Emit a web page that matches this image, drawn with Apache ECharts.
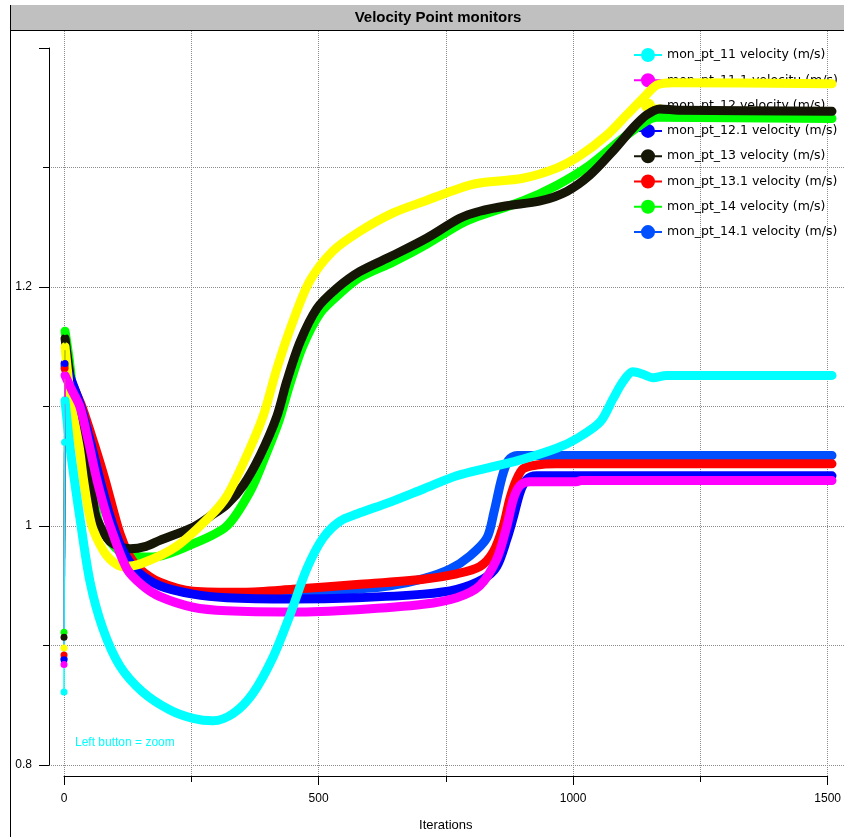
<!DOCTYPE html>
<html>
<head>
<meta charset="utf-8">
<script src="https://cdn.jsdelivr.net/npm/echarts@6/dist/echarts.min.js"></script>
<style>
html,body{margin:0;padding:0;background:#fff;}
#chart{width:844px;height:837px;}
</style>
</head>
<body>
<div id="chart"></div>
<script>
// ---- data (iteration, velocity m/s) ----
const seriesNames = [
  'mon_pt_11 velocity (m/s)', 'mon_pt_11.1 velocitu (m/s)', 'mon_pt_12 velocity (m/s)',
  'mon_pt_12.1 velocity (m/s)', 'mon_pt_13 velocity (m/s)', 'mon_pt_13.1 velocity (m/s)',
  'mon_pt_14 velocity (m/s)', 'mon_pt_14.1 velocity (m/s)'
];
const seriesColors = ['#00ffff', '#ff00ff', '#ffff00', '#0000ff', '#161606', '#ff0000', '#00ff00', '#0050ff'];

const mon11 = [[2,1.105],[12,1.065],[31,1.007],[51,0.953],[76,0.914],[109,0.883],[154,0.861],[207,0.846],[252,0.839],[291,0.837],[330,0.843],[369,0.860],[408,0.890],[441,0.925],[474,0.964],[506,0.990],[539,1.004],[572,1.010],[637,1.020],[702,1.031],[767,1.042],[832,1.049],[897,1.056],[962,1.065],[1001,1.073],[1047,1.087],[1073,1.107],[1092,1.121],[1111,1.129],[1131,1.127],[1150,1.124],[1177,1.126],[1500,1.126]];
const mon11_1 = [[2,1.126],[15,1.114],[31,1.1],[48,1.07],[64,1.039],[77,1.018],[90,1.0],[123,0.964],[154,0.950],[187,0.941],[252,0.932],[318,0.929],[447,0.928],[572,0.930],[702,0.9345],[767,0.940],[812,0.950],[845,0.972],[865,1.0],[878,1.023],[891,1.034],[910,1.037],[1000,1.037],[1010,1.038],[1500,1.038]];
const mon12 = [[2,1.150],[8,1.125],[15,1.1],[30,1.065],[38,1.039],[47,1.015],[57,0.997],[84,0.975],[115,0.966],[154,0.969],[220,0.983],[285,1.008],[318,1.025],[357,1.059],[389,1.092],[416,1.132],[447,1.171],[480,1.205],[525,1.230],[578,1.2466],[643,1.262],[709,1.2726],[773,1.2827],[812,1.287],[896,1.291],[962,1.2995],[1008,1.310],[1060,1.327],[1099,1.344],[1131,1.358],[1158,1.369],[1189,1.371],[1500,1.370]];
const mon12_1 = [[2,1.136],[18,1.118],[33,1.1],[52,1.07],[70,1.039],[90,1.008],[109,0.985],[125,0.972],[143,0.962],[187,0.950],[252,0.943],[318,0.940],[447,0.939],[572,0.940],[702,0.943],[767,0.947],[818,0.9555],[845,0.966],[865,0.989],[878,1.008],[891,1.0285],[904,1.039],[923,1.042],[1500,1.042]];
const mon13 = [[2,1.157],[12,1.125],[21,1.1],[40,1.065],[51,1.039],[57,1.02],[64,1.006],[90,0.987],[129,0.981],[160,0.983],[187,0.988],[252,0.999],[285,1.008],[318,1.018],[350,1.034],[383,1.059],[416,1.092],[435,1.121],[461,1.154],[494,1.182],[533,1.199],[578,1.213],[643,1.2265],[709,1.241],[773,1.2575],[812,1.2634],[865,1.268],[930,1.272],[982,1.280],[1027,1.2936],[1072,1.3137],[1111,1.333],[1138,1.344],[1164,1.349],[1200,1.348],[1500,1.347]];
const mon13_1 = [[2,1.132],[20,1.115],[35,1.1],[58,1.07],[80,1.039],[109,0.994],[128,0.975],[148,0.964],[187,0.953],[252,0.9455],[350,0.9446],[447,0.947],[572,0.951],[702,0.9555],[767,0.960],[812,0.966],[838,0.978],[858,1.0],[871,1.023],[884,1.039],[897,1.048],[923,1.051],[960,1.052],[1500,1.052]];
const mon14 = [[2,1.163],[10,1.14],[20,1.105],[40,1.065],[52,1.039],[60,1.02],[70,1.0],[100,0.982],[123,0.975],[174,0.974],[252,0.985],[318,1.0],[363,1.0285],[390,1.055],[420,1.088],[440,1.117],[466,1.150],[500,1.178],[540,1.195],[578,1.208],[643,1.221],[709,1.236],[773,1.2525],[799,1.2575],[896,1.272],[962,1.285],[1027,1.302],[1092,1.3247],[1138,1.339],[1158,1.342],[1500,1.341]];
const mon14_1 = [[2,1.134],[18,1.117],[33,1.1],[52,1.07],[71,1.039],[91,1.008],[110,0.985],[126,0.972],[145,0.963],[187,0.951],[252,0.944],[318,0.941],[441,0.941],[506,0.944],[572,0.947],[637,0.950],[702,0.956],[754,0.964],[793,0.975],[826,0.990],[840,1.012],[855,1.040],[868,1.055],[885,1.059],[1500,1.059]];
const monitorData = [mon11, mon11_1, mon12, mon12_1, mon13, mon13_1, mon14, mon14_1];

// first iterations (initial values plotted as separate dots)
const start11 = [[0,0.861],[1,1.070],[2,1.105]];
const start11_1 = [[0,0.884],[2,1.126]];
const start12 = [[0,0.898],[2,1.150]];
const start12_1 = [[0,0.888],[2,1.136]];
const start13 = [[0,0.907],[2,1.157]];
const start13_1 = [[0,0.892],[2,1.132]];
const start14 = [[0,0.911],[2,1.163]];
const start14_1 = [[0,0.889],[2,1.134]];
const startData = [start11, start11_1, start12, start12_1, start13, start13_1, start14, start14_1];

const yTicks = [0.8, 1, 1.2];
const xTicks = [0, 500, 1000, 1500];

// ---- chart ----
const FONT = 'Liberation Sans';
const gridDots = { color: '#8c8c8c', width: 1, type: [1, 1] };
const legendIcon = 'path://M0,6L28,6L28,8L0,8Z M14,0A7,7 0 1 1 14,14A7,7 0 1 1 14,0Z';

const series = [];
// draw order: last legend entry at the bottom, first on top
for (let i = seriesNames.length - 1; i >= 0; i--) {
  series.push({
    name: seriesNames[i], type: 'line', xAxisIndex: 0, yAxisIndex: 0,
    data: monitorData[i], symbol: 'none', showSymbol: false,
    smooth: 0.3, silent: true, z: 2,
    lineStyle: { width: 9, color: seriesColors[i], cap: 'round', join: 'round' },
    itemStyle: { color: seriesColors[i] },
    emphasis: { disabled: true }
  });
}
for (let i = seriesNames.length - 1; i >= 0; i--) {
  series.push({
    name: 'start_' + i, type: 'line', xAxisIndex: 0, yAxisIndex: 0,
    data: startData[i], symbol: 'circle', symbolSize: 7, showSymbol: true,
    silent: true, z: 3,
    lineStyle: { width: 1.5, color: seriesColors[i] },
    itemStyle: { color: seriesColors[i] },
    emphasis: { disabled: true }
  });
}

const chart = echarts.init(document.getElementById('chart'), null, { renderer: 'canvas' });
chart.setOption({
  animation: false,
  backgroundColor: '#ffffff',
  title: {
    text: 'Velocity Point monitors', left: 438, top: 10, padding: 0, textAlign: 'center',
    textStyle: { fontFamily: FONT, fontSize: 15, fontWeight: 'bold', color: '#000' }
  },
  graphic: { elements: [
    { type: 'rect', z: -10, shape: { x: 10, y: 5, width: 834, height: 25 }, style: { fill: '#c0c0c0' } },
    { type: 'line', z: 10, shape: { x1: 10.5, y1: 5, x2: 10.5, y2: 837 }, style: { stroke: '#000', lineWidth: 1 } },
    { type: 'line', z: 10, shape: { x1: 10, y1: 30.5, x2: 844, y2: 30.5 }, style: { stroke: '#000', lineWidth: 1 } },
    { type: 'text', z: 10, x: 75, y: 737, style: { text: 'Left button = zoom', fill: '#00ffff', font: '12px "Liberation Sans"' } }
  ]},
  legend: {
    orient: 'vertical', left: 634, top: 48, padding: 0, z: 1,
    itemWidth: 28, itemHeight: 14, itemGap: 11.3, selectedMode: false,
    icon: legendIcon,
    data: seriesNames,
    textStyle: { fontFamily: 'DejaVu Sans', fontSize: 12.5, color: '#000', lineHeight: 14 }
  },
  grid: [
    { left: 49, right: 0, top: 48, bottom: 72 },
    { left: 64, right: 12, top: 31, bottom: 59 }
  ],
  xAxis: [
    { type: 'value', gridIndex: 0, min: -29.296875, max: 1523.4375, show: false },
    {
      type: 'value', gridIndex: 1, min: 0, max: 1500, interval: 500, position: 'bottom',
      axisLine: { show: true, onZero: false, lineStyle: { color: '#000', width: 1 } },
      axisTick: { show: true, length: 9, lineStyle: { color: '#000' } },
      minorTick: { show: true, splitNumber: 2, length: 6, lineStyle: { color: '#000' } },
      splitLine: { show: true, lineStyle: gridDots },
      minorSplitLine: { show: true, lineStyle: gridDots },
      axisLabel: { margin: 17, color: '#000', fontFamily: FONT, fontSize: 12,
        formatter: v => (xTicks.indexOf(v) >= 0 ? String(v) : '') },
      name: 'Iterations', nameLocation: 'middle', nameGap: 43,
      nameTextStyle: { fontFamily: FONT, fontSize: 13, color: '#000' }
    }
  ],
  yAxis: [
    {
      type: 'value', gridIndex: 0, min: 0.8, max: 1.4, interval: 0.2,
      axisLine: { show: true, onZero: false, lineStyle: { color: '#000', width: 1 } },
      axisTick: { show: true, length: 10, lineStyle: { color: '#000' } },
      minorTick: { show: true, splitNumber: 2, length: 6, lineStyle: { color: '#000' } },
      splitLine: { show: true, showMaxLine: false, lineStyle: gridDots },
      minorSplitLine: { show: true, lineStyle: gridDots },
      axisLabel: { margin: 17, color: '#000', fontFamily: FONT, fontSize: 12, showMaxLabel: false,
        formatter: v => { const r = Math.round(v * 10) / 10; return yTicks.indexOf(r) >= 0 ? String(r) : ''; } }
    },
    { type: 'value', gridIndex: 1, min: 0, max: 1, show: false }
  ],
  series: series
});
</script>
</body>
</html>
